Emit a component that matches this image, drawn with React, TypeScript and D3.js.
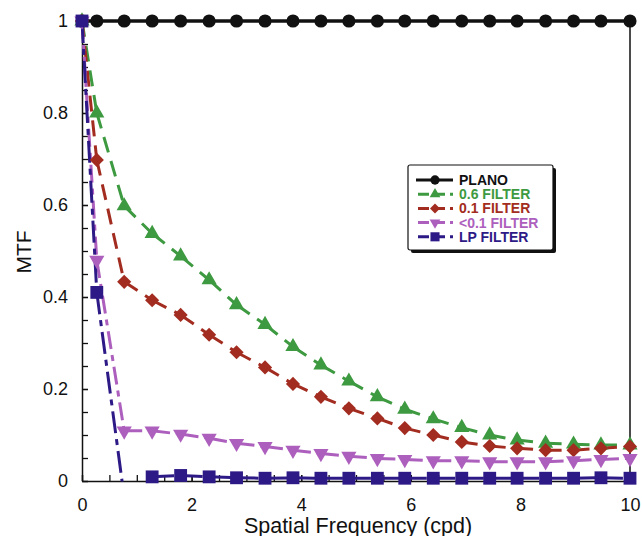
import React, { useEffect, useRef } from "react";
import * as d3 from "d3";

// spatial frequencies (cpd) shared by every curve
const freqs = [0, 0.27, 0.77, 1.28, 1.8, 2.32, 2.82, 3.34, 3.85, 4.36, 4.87, 5.39, 5.89, 6.41, 6.93, 7.44, 7.94, 8.46, 8.97, 9.47, 10];

const plano = [1, 1, 1, 1, 1, 1, 1, 1, 1, 1, 1, 1, 1, 1, 1, 1, 1, 1, 1, 1, 1];
const filter06 = [1, 0.8, 0.598, 0.538, 0.489, 0.437, 0.383, 0.34, 0.292, 0.252, 0.217, 0.183, 0.156, 0.135, 0.116, 0.1, 0.089, 0.082, 0.08, 0.078, 0.078];
const filter01 = [1, 0.698, 0.433, 0.393, 0.361, 0.318, 0.28, 0.247, 0.211, 0.183, 0.158, 0.136, 0.115, 0.1, 0.085, 0.076, 0.071, 0.067, 0.067, 0.071, 0.075];
const filterLt01 = [1, 0.48, 0.109, 0.109, 0.102, 0.093, 0.082, 0.075, 0.067, 0.06, 0.054, 0.049, 0.047, 0.044, 0.044, 0.042, 0.042, 0.042, 0.044, 0.047, 0.049];
const filterLP = [1, 0.41, -0.035, 0.009, 0.012, 0.009, 0.007, 0.006, 0.007, 0.006, 0.006, 0.006, 0.006, 0.006, 0.006, 0.006, 0.006, 0.006, 0.006, 0.007, 0.006];

const seriesNames = ["PLANO", "0.6 FILTER", "0.1 FILTER", "<0.1 FILTER", "LP FILTER"];
const yTicks = [0, 0.2, 0.4, 0.6, 0.8, 1];
const xTicks = [0, 2, 4, 6, 8, 10];

const FONT = "'Liberation Sans', Arial, sans-serif";

const App = () => {
  const ref = useRef<SVGSVGElement>(null);

  useEffect(() => {
    const svg = d3.select(ref.current);
    svg.selectAll("*").remove();

    const left = 82, right = 630, top = 21, bottom = 481;
    const x = d3.scaleLinear().domain([0, 10]).range([left, right]);
    const y = d3.scaleLinear().domain([0, 1]).range([bottom, top]);

    const series = [
      { name: seriesNames[0], values: plano, color: "#111111", dash: null, symbol: d3.symbolCircle, size: 135, rotate: 0, width: 3.5 },
      { name: seriesNames[1], values: filter06, color: "#3e9a41", dash: "16,9", symbol: d3.symbolTriangle, size: 100, rotate: 0, width: 3 },
      { name: seriesNames[2], values: filter01, color: "#a32c20", dash: "16,9", symbol: d3.symbolSquare, size: 100, rotate: 45, width: 3 },
      { name: seriesNames[3], values: filterLt01, color: "#ad5fbd", dash: "18,6,6,6", symbol: d3.symbolTriangle, size: 100, rotate: 180, width: 3 },
      { name: seriesNames[4], values: filterLP, color: "#2e1a86", dash: "22,6,6,6", symbol: d3.symbolSquare, size: 165, rotate: 0, width: 3 },
    ];

    const defs = svg.append("defs");
    defs.append("clipPath").attr("id", "lineClip")
      .append("rect").attr("x", left - 12).attr("y", 0).attr("width", right - left + 24).attr("height", bottom + 0.5);
    defs.append("clipPath").attr("id", "markClip")
      .append("rect").attr("x", left - 12).attr("y", 0).attr("width", right - left + 24).attr("height", bottom + 7);

    // axes with inward ticks
    const axisFont = (g) => g.selectAll("text").attr("font-family", FONT).attr("font-size", 18).attr("fill", "#111");

    svg.append("g")
      .attr("transform", `translate(${left},0)`)
      .call(d3.axisLeft(y).tickValues(d3.range(0, 1.0001, 0.05)).tickSize(-6).tickFormat(() => ""))
      .call((g) => g.select(".domain").remove())
      .call((g) => g.selectAll("line").attr("stroke", "#111").attr("stroke-width", 1.3));
    svg.append("g")
      .attr("transform", `translate(${left},0)`)
      .call(d3.axisLeft(y).tickValues(yTicks).tickSize(-6).tickSizeOuter(0).tickPadding(14).tickFormat((d) => String(+(+d).toFixed(1))))
      .call((g) => g.select(".domain").attr("stroke", "#111").attr("stroke-width", 1.5))
      .call((g) => g.selectAll("line").attr("stroke", "#111").attr("stroke-width", 1.3))
      .call(axisFont);

    svg.append("g")
      .attr("transform", `translate(0,${bottom})`)
      .call(d3.axisBottom(x).tickValues(d3.range(0, 10.001, 0.5)).tickSize(-6).tickFormat(() => ""))
      .call((g) => g.select(".domain").remove())
      .call((g) => g.selectAll("line").attr("stroke", "#111").attr("stroke-width", 1.3));
    svg.append("g")
      .attr("transform", `translate(0,${bottom})`)
      .call(d3.axisBottom(x).tickValues(xTicks).tickSize(-6).tickSizeOuter(0).tickPadding(17))
      .call((g) => g.select(".domain").attr("stroke", "#111").attr("stroke-width", 1.5))
      .call((g) => g.selectAll("line").attr("stroke", "#111").attr("stroke-width", 1.3))
      .call(axisFont);

    // frame top and right
    svg.append("path")
      .attr("d", `M${left},${top}H${right}V${bottom}`)
      .attr("fill", "none").attr("stroke", "#111").attr("stroke-width", 1.5);

    // axis titles
    svg.append("text")
      .attr("transform", `translate(31,252) rotate(-90)`)
      .attr("text-anchor", "middle").attr("font-family", FONT).attr("font-size", 21).attr("fill", "#111")
      .text("MTF");
    svg.append("text")
      .attr("x", 358).attr("y", 533)
      .attr("text-anchor", "middle").attr("font-family", FONT).attr("font-size", 21.5).attr("fill", "#111")
      .text("Spatial Frequency (cpd)");

    // curves: dashes restart on every segment
    const lines = svg.append("g").attr("clip-path", "url(#lineClip)");
    series.forEach((s) => {
      const pts = freqs.map((f, i) => [x(f), y(s.values[i])]);
      if (!s.dash) {
        lines.append("path").attr("d", d3.line()(pts)).attr("fill", "none")
          .attr("stroke", s.color).attr("stroke-width", s.width);
        return;
      }
      for (let i = 0; i < pts.length - 1; i++) {
        lines.append("path").attr("d", d3.line()([pts[i], pts[i + 1]])).attr("fill", "none")
          .attr("stroke", s.color).attr("stroke-width", s.width).attr("stroke-dasharray", s.dash);
      }
    });

    const marks = svg.append("g").attr("clip-path", "url(#markClip)");
    series.forEach((s) => {
      marks.selectAll(null)
        .data(freqs.map((f, i) => [f, s.values[i]]))
        .enter()
        .append("path")
        .attr("d", d3.symbol().type(s.symbol).size(s.size)())
        .attr("transform", (d) => `translate(${x(d[0])},${y(d[1])}) rotate(${s.rotate})`)
        .attr("fill", s.color);
    });

    // legend
    const lg = svg.append("g").attr("transform", "translate(408,165)");
    lg.append("rect").attr("x", 3).attr("y", 3).attr("width", 145).attr("height", 85).attr("rx", 2).attr("fill", "#111");
    lg.append("rect").attr("x", 0).attr("y", 0).attr("width", 145).attr("height", 85).attr("rx", 2)
      .attr("fill", "#fff").attr("stroke", "#111").attr("stroke-width", 1.2);
    series.forEach((s, i) => {
      const ry = 15 + i * 14.2;
      lg.append("path").attr("d", `M8,${ry}H45`).attr("stroke", s.color).attr("stroke-width", 3)
        .attr("stroke-dasharray", s.dash ? "11,5" : null).attr("stroke-dashoffset", s.dash ? -2 : null);
      lg.append("path").attr("d", d3.symbol().type(s.symbol).size(s.size * 0.5)())
        .attr("transform", `translate(27,${ry}) rotate(${s.rotate})`).attr("fill", s.color);
      lg.append("text").attr("x", 51).attr("y", ry + 5)
        .attr("font-family", FONT).attr("font-size", 14).attr("font-weight", "bold").attr("fill", s.color)
        .text(s.name);
    });
  }, []);

  return (
    <svg
      ref={ref}
      width={642}
      height={536}
      style={{ position: "absolute", left: 0, top: 0, background: "#fff" }}
    />
  );
};

export default App;
